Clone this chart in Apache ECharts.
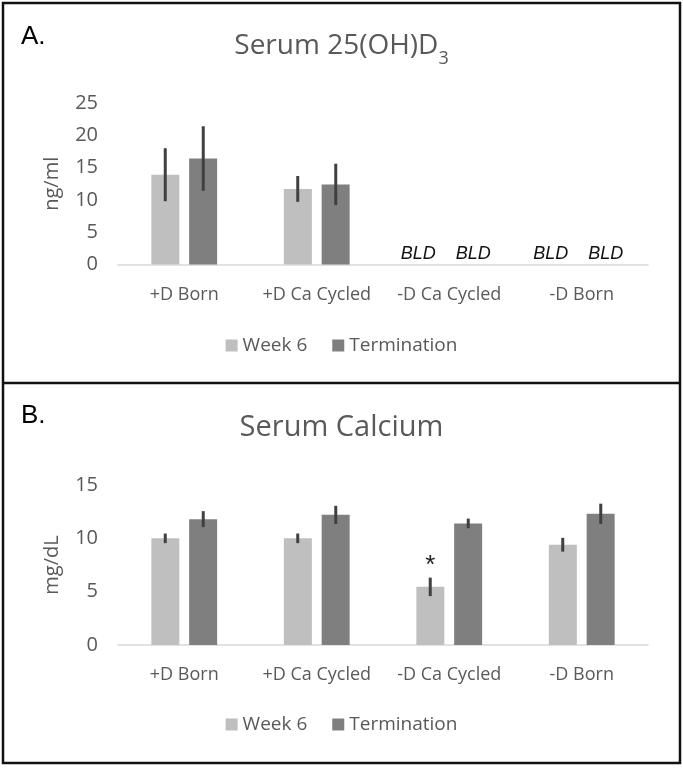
<!DOCTYPE html>
<html><head><meta charset="utf-8">
<script src="https://cdn.jsdelivr.net/npm/echarts@6/dist/echarts.min.js"></script>
<style>html,body{margin:0;padding:0;background:#fff}#c{width:683px;height:768px}</style>
</head><body><div id="c"></div>
<script>
const categories = ['+D Born', '+D Ca Cycled', '-D Ca Cycled', '-D Born'];
const seriesNames = ['Week 6', 'Termination'];
const vitDWeek6 = [13.9, 11.7, 0, 0];
const vitDWeek6Err = [4.1, 2.0, 0, 0];
const vitDTerm = [16.4, 12.4, 0, 0];
const vitDTermErr = [5.0, 3.2, 0, 0];
const vitDWeek6Notes = ['', '', 'BLD', 'BLD'];
const vitDTermNotes = ['', '', 'BLD', 'BLD'];
const caWeek6 = [10.0, 10.0, 5.45, 9.4];
const caWeek6Err = [0.45, 0.45, 0.87, 0.65];
const caTerm = [11.8, 12.2, 11.4, 12.3];
const caTermErr = [0.75, 0.85, 0.45, 0.95];
const caWeek6Notes = ['', '', '*', ''];
const vitDAxis = {min: 0, max: 25, interval: 5};
const caAxis = {min: 0, max: 15, interval: 5};

const FONT = 'Open Sans';
const GREY = '#595959';
const C1 = '#bfbfbf', C2 = '#7f7f7f';

function barData(vals, notes, labelStyle) {
  return vals.map((v, i) => {
    if (notes[i]) return {value: v, label: Object.assign({show: true, formatter: notes[i]}, labelStyle)};
    return v;
  });
}
function errSeries(vals, errs, gi, off) {
  return {
    type: 'custom', xAxisIndex: gi, yAxisIndex: gi, z: 5, silent: true,
    data: vals.map((v, i) => [i, v, errs[i]]).filter(d => d[2] > 0),
    renderItem: function (params, api) {
      const x = api.value(0), v = api.value(1), e = api.value(2);
      const t = api.coord([x, v + e]);
      const b = api.coord([x, v - e]);
      return {type: 'line', shape: {x1: t[0] + off, y1: t[1], x2: b[0] + off, y2: b[1]},
        style: {stroke: '#404040', lineWidth: 3}};
    }
  };
}
const bldStyle = {position: 'top', distance: 2, fontFamily: 'Liberation Sans', fontStyle: 'italic', fontSize: 18, color: '#111'};

function xAx(gi) {
  return {type: 'category', gridIndex: gi, data: categories,
    axisLine: {lineStyle: {color: '#d9d9d9', width: 1.5}}, axisTick: {show: false},
    axisLabel: {color: GREY, fontFamily: FONT, fontSize: 18, margin: 21, interval: 0}};
}
function yAx(gi, ax, name) {
  return {type: 'value', gridIndex: gi, min: ax.min, max: ax.max, interval: ax.interval,
    name: name, nameLocation: 'middle', nameGap: 56,
    nameTextStyle: {color: GREY, fontFamily: FONT, fontSize: 20},
    axisLine: {show: false}, axisTick: {show: false}, splitLine: {show: false},
    axisLabel: {color: GREY, fontFamily: FONT, fontSize: 20, margin: 20}};
}
const barCommon = {type: 'bar', barWidth: 28, barGap: '35%'};

const option = {
  animation: false,
  backgroundColor: '#fff',
  title: [
    {text: '{a|Serum 25(OH)D}{s|3}', left: 'center', top: 27,
      textStyle: {fontWeight: 'normal', rich: {a: {fontFamily: FONT, fontSize: 28, fontWeight: 'normal', color: GREY}, s: {fontFamily: FONT, fontSize: 18, fontWeight: 'normal', color: GREY, verticalAlign: 'bottom', padding: [0, 0, -8, 0]}}}},
    {text: 'Serum Calcium', left: 'center', top: 408,
      textStyle: {fontFamily: FONT, fontSize: 29, fontWeight: 'normal', color: GREY}}
  ],
  legend: [
    {data: seriesNames, top: 331, left: 'center', icon: 'rect', itemWidth: 12, itemHeight: 12, itemGap: 25,
      textStyle: {color: GREY, fontFamily: FONT, fontSize: 19}},
    {data: seriesNames, top: 710, left: 'center', icon: 'rect', itemWidth: 12, itemHeight: 12, itemGap: 25,
      textStyle: {color: GREY, fontFamily: FONT, fontSize: 19}}
  ],
  grid: [
    {left: 118, right: 35, top: 103, height: 161.5},
    {left: 118, right: 35, top: 485, height: 160}
  ],
  xAxis: [xAx(0), xAx(1)],
  yAxis: [yAx(0, vitDAxis, 'ng/ml'), yAx(1, caAxis, 'mg/dL')],
  series: [
    Object.assign({}, barCommon, {name: seriesNames[0], xAxisIndex: 0, yAxisIndex: 0, itemStyle: {color: C1},
      data: barData(vitDWeek6, vitDWeek6Notes, Object.assign({offset: [-12, 0]}, bldStyle))}),
    Object.assign({}, barCommon, {name: seriesNames[1], xAxisIndex: 0, yAxisIndex: 0, itemStyle: {color: C2},
      data: barData(vitDTerm, vitDTermNotes, Object.assign({offset: [5, 0]}, bldStyle))}),
    errSeries(vitDWeek6, vitDWeek6Err, 0, -19),
    errSeries(vitDTerm, vitDTermErr, 0, 19),
    Object.assign({}, barCommon, {name: seriesNames[0], xAxisIndex: 1, yAxisIndex: 1, itemStyle: {color: C1},
      data: barData(caWeek6, caWeek6Notes, {position: 'top', distance: 8, fontFamily: 'Liberation Sans', fontSize: 26, color: '#222'})}),
    Object.assign({}, barCommon, {name: seriesNames[1], xAxisIndex: 1, yAxisIndex: 1, itemStyle: {color: C2},
      data: caTerm}),
    errSeries(caWeek6, caWeek6Err, 1, -19),
    errSeries(caTerm, caTermErr, 1, 19)
  ],
  graphic: [
    {type: 'rect', shape: {x: 3, y: 3, width: 677, height: 760}, style: {fill: 'none', stroke: '#111', lineWidth: 2.5}, z: 10},
    {type: 'line', shape: {x1: 3, y1: 383, x2: 680, y2: 383}, style: {stroke: '#111', lineWidth: 2.5}, z: 10},
    {type: 'text', left: 21, top: 24, style: {text: 'A.', fontFamily: 'Liberation Sans', fontSize: 26, fill: '#000'}},
    {type: 'text', left: 21, top: 403, style: {text: 'B.', fontFamily: 'Liberation Sans', fontSize: 26, fill: '#000'}}
  ]
};
echarts.init(document.getElementById('c')).setOption(option);
</script></body></html>
